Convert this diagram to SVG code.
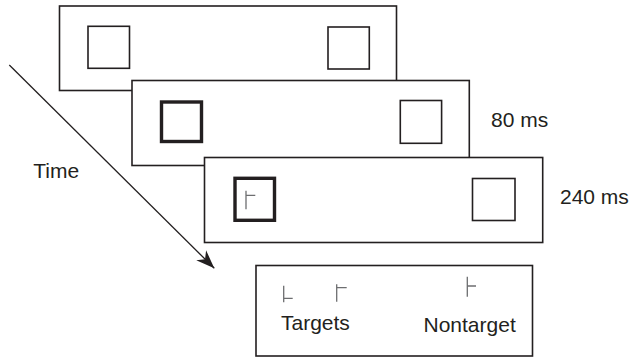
<svg xmlns="http://www.w3.org/2000/svg" width="632" height="360" viewBox="0 0 632 360">
<style>
.frame{fill:#fff;stroke:#231f20;stroke-width:1.6}
.sq{fill:none;stroke:#231f20;stroke-width:1.6}
.sqb{fill:none;stroke:#231f20;stroke-width:3.4}
.gl{fill:none;stroke:#6d6e70;stroke-width:1.3}
.t{font-family:"Liberation Sans",Arial,sans-serif;font-size:21px;fill:#231f20}
.conn{stroke:#231f20;stroke-width:1.3;fill:none}
</style>
<defs>
<marker id="ah" markerUnits="userSpaceOnUse" markerWidth="24" markerHeight="18" refX="20" refY="9" orient="auto" viewBox="0 0 24 18">
<path d="M20,9 L1.5,2 L7,9 L1.5,16 Z" fill="#231f20"/>
</marker>
</defs>
<g id="frame1">
<rect class="frame" x="59.5" y="6" width="337" height="84.5"/>
<rect class="sq" x="88" y="26.3" width="41.5" height="42"/>
<rect class="sq" x="328" y="27" width="41.3" height="42"/>
</g>
<g id="frame2">
<rect class="frame" x="132" y="80.5" width="337.3" height="85"/>
<rect class="sqb" x="161.5" y="102" width="40" height="39.5"/>
<rect class="sq" x="400.3" y="100.5" width="41.3" height="42.8"/>
<text class="t" x="491" y="127">80 ms</text>
</g>
<g id="frame3">
<rect class="frame" x="204.5" y="157.5" width="338.2" height="85"/>
<rect class="sqb" x="235" y="178.3" width="39.5" height="42"/>
<path class="gl" d="M246,190.7 V209.3 M246,195.3 H255.3"/>
<rect class="sq" x="472.5" y="178.5" width="42.5" height="42"/>
<text class="t" x="560" y="204">240 ms</text>
</g>
<g id="legend">
<rect class="frame" x="256" y="265.5" width="276.5" height="90.5"/>
<path class="gl" d="M283.7,285.7 V302.3 M283.7,298.3 H292.7"/>
<path class="gl" d="M336.7,284.3 V301.7 M336.7,287.7 H346.7"/>
<path class="gl" d="M467.3,276.7 V296.7 M467.3,286 H476"/>
<text class="t" x="281" y="330">Targets</text>
<text class="t" x="423.5" y="331.5">Nontarget</text>
</g>
<g id="connectors">
<line class="conn" x1="9.3" y1="65" x2="214.3" y2="268.3" marker-end="url(#ah)"/>
<text class="t" x="33.3" y="177.7">Time</text>
</g>
</svg>
